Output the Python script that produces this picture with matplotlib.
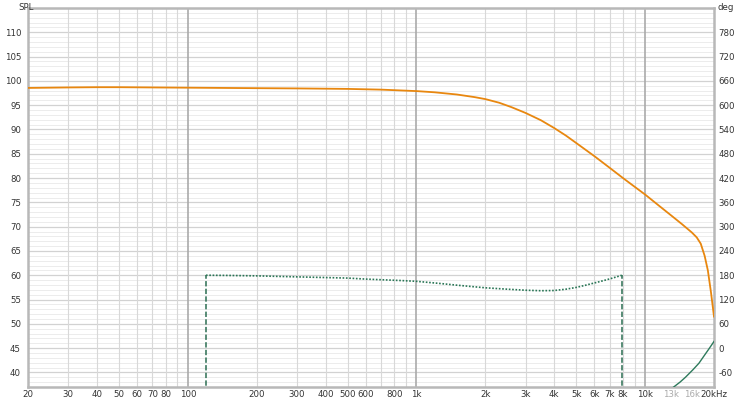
import numpy as np
import matplotlib
matplotlib.use('Agg')
import matplotlib.pyplot as plt
from matplotlib.ticker import FixedLocator, NullFormatter

plt.rcParams['axes.unicode_minus'] = False

# SPL (orange) - Hz / dB
spl_freq = [20, 30, 40, 50, 70, 100, 200, 300, 500, 700, 1000, 1200, 1500, 1800, 2000,
            2300, 2600, 3000, 3500, 4000, 4500, 5000, 6000, 7000, 8000, 9000, 10000,
            11500, 13000, 14500, 16000, 16800, 17500, 18200, 18800, 19400, 20000]
spl_db = [98.55, 98.65, 98.7, 98.7, 98.65, 98.6, 98.5, 98.45, 98.35, 98.2, 97.9, 97.65,
          97.2, 96.65, 96.25, 95.5, 94.6, 93.4, 91.9, 90.3, 88.75, 87.2, 84.5, 82.1, 80.0,
          78.2, 76.6, 74.3, 72.3, 70.5, 68.8, 67.8, 66.5, 64.0, 61.0, 56.5, 51.5]

# faze (zalia) - pirmas segmentas iki apsisukimo
ph1_freq = [120, 150, 200, 300, 500, 600, 850, 1000, 1250, 1500, 1750, 2000, 2500, 3000,
            3500, 4000, 4500, 5000, 5500, 6000, 6500, 7000, 7500, 7900]
ph1_deg = [180, 179.5, 178.5, 176, 173, 170.5, 167, 165, 160, 155.5, 152, 149, 145.5,
           143, 141.8, 142.3, 145.5, 150, 155.5, 161, 166, 171, 176, 180]

# antras segmentas po apsisukimo (+/-180)
ph2_freq = [7900, 10000, 12000, 13400, 14200, 15000, 16200, 17200, 18100, 19000, 20000]
ph2_deg = [-180, -146, -115, -95, -84, -72, -53, -37, -19, -2, 16.5]

wrap_freq = [120, 7900]

xtick_vals = [20, 30, 40, 50, 60, 70, 80, 100, 200, 300, 400, 500, 600, 800, 1000,
              2000, 3000, 4000, 5000, 6000, 7000, 8000, 10000, 13000, 16000, 20000]
xtick_lbls = ['20', '30', '40', '50', '60', '70', '80', '100', '200', '300', '400',
              '500', '600', '800', '1k', '2k', '3k', '4k', '5k', '6k', '7k', '8k',
              '10k', '13k', '16k', '20kHz']

txt_col = '#333333'
fs = 6.2

fig = plt.figure(figsize=(7.5, 4), dpi=100)
ax = fig.add_axes([28 / 750, 13 / 400, 686 / 750, 379 / 400])
ax.set_xscale('log')
ax.set_xlim(20, 20000)
ax.set_ylim(37, 115)

# tinklelis
for y in range(38, 116):
    if y % 5 == 0:
        ax.axhline(y, color='#d2d2d2', lw=0.9, zorder=0.2)
    else:
        ax.axhline(y, color='#ececec', lw=0.7, zorder=0.1)
minor_x = [m * 10 ** e for e in range(1, 5) for m in range(2, 10) if 20 < m * 10 ** e < 20000]
for f in minor_x:
    ax.axvline(f, color='#d8d8d8', lw=0.8, zorder=0.3)
for f in [100, 1000, 10000]:
    ax.axvline(f, color='#aaaaaa', lw=1.2, zorder=0.4)

ax.xaxis.set_major_locator(FixedLocator(xtick_vals))
ax.xaxis.set_minor_locator(FixedLocator([]))
ax.xaxis.set_minor_formatter(NullFormatter())
ax.set_xticklabels(xtick_lbls)
ax.set_yticks(range(40, 115, 5))
ax.tick_params(length=0, labelsize=fs, labelcolor=txt_col)
ax.tick_params(axis='x', pad=2)
ax.tick_params(axis='y', pad=5)
for lbl in ax.get_xticklabels():
    if lbl.get_text() in ('13k', '16k'):
        lbl.set_color('#aaaaaa')

for s in ax.spines.values():
    s.set_color('#b8b8b8')
    s.set_linewidth(1.8)

ax.plot(spl_freq, spl_db, color='#e8870f', lw=1.3, zorder=3)

# desine asis - faze
ax2 = ax.twinx()
ax2.set_ylim((37 - 45) * 12, (115 - 45) * 12)
ax2.set_yticks(range(-60, 781, 60))
ax2.tick_params(length=0, labelsize=fs, labelcolor=txt_col, pad=3)
for s in ax2.spines.values():
    s.set_visible(False)

ax2.vlines(wrap_freq, -180, 180, color='#2b6e52', lw=1.1, linestyles=(0, (3.5, 1.5)), zorder=3)
ax2.plot(ph1_freq, ph1_deg, color='#2a7656', lw=1.2, ls=(0, (1, 1)), zorder=3)
ax2.plot(ph2_freq, ph2_deg, color='#2e7a5c', lw=1.0, zorder=3)

fig.text(18 / 750, 1 - 3 / 400, 'SPL', fontsize=fs, color=txt_col, ha='left', va='top')
fig.text(717 / 750, 1 - 3 / 400, 'deg', fontsize=fs, color=txt_col, ha='left', va='top')

fig.savefig('out.png', dpi=100)
